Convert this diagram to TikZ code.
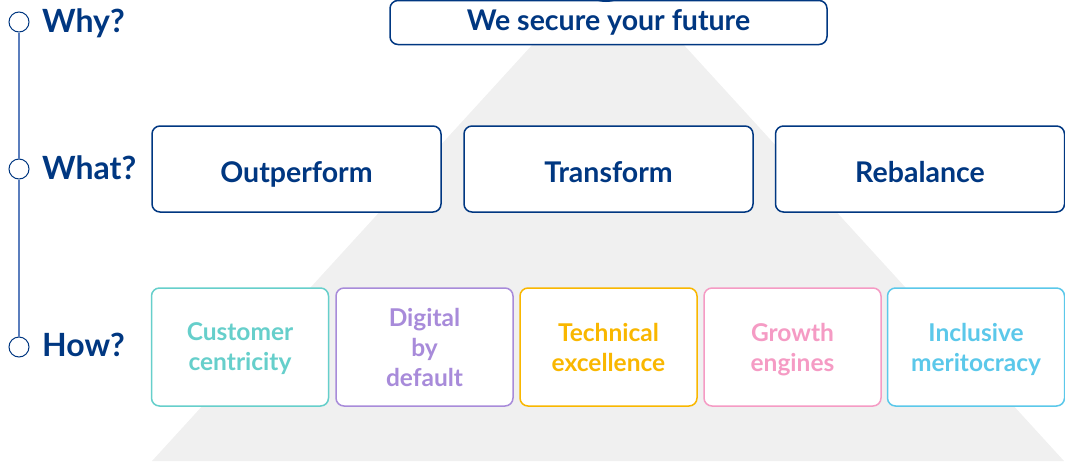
\documentclass[tikz,border=0pt]{standalone}
\usepackage{fontspec}
\setmainfont{Lato}
\definecolor{navy}{HTML}{003781}
\definecolor{stem}{HTML}{5B7EBD}
\definecolor{pyr}{HTML}{F0F0F0}
\definecolor{teal}{HTML}{66CFCB}
\definecolor{lilac}{HTML}{A88BDA}
\definecolor{amber}{HTML}{F9B700}
\definecolor{rose}{HTML}{F59BC4}
\definecolor{sky}{HTML}{5BC8EA}
\begin{document}
\begin{tikzpicture}[x=1pt,y=-1pt,
    box/.style={draw=navy,line width=1.5pt,rounded corners=8pt,fill=white,inner sep=0pt,text=navy,font=\bfseries\fontsize{28.5}{32}\selectfont},
    what/.style={box,minimum width=289pt,minimum height=86pt,text height=26pt,text depth=0pt},
    how/.style={draw=#1,text=#1,line width=1.5pt,rounded corners=8pt,fill=white,minimum width=177pt,minimum height=118pt,inner sep=0pt,align=center,text depth=0pt,font=\bfseries\fontsize{24.5}{30}\selectfont},
    dot/.style={circle,draw=navy,fill=white,line width=1pt,minimum size=20pt,inner sep=0pt},
    lbl/.style={anchor=base west,inner sep=0pt,text=navy,font=\bfseries\fontsize{32}{36}\selectfont}]
    \useasboundingbox (0,0) rectangle (1065,461);
    \clip (0,0) rectangle (1065,461);
    \fill[pyr] (533,44) -- (683,44) -- (1064,461) -- (152,461) -- cycle;
    \node[box,minimum width=437pt,minimum height=44pt] (why) at (608.5,22.5) {We secure your future};
    \fill[navy] (606,-28) circle (30);
    \node[what] (out) at (296.5,169) {Outperform};
    \node[what] (trans) at (608.5,169) {Transform};
    \node[what] (rebal) at (920,169) {Rebalance};
    \node[how=teal] (cust) at (240,347) {Customer\\centricity};
    \node[how=lilac] (digi) at (424.5,347) {Digital\\by\\default};
    \node[how=amber] (tech) at (608.5,347) {Technical\\excellence};
    \node[how=rose] (grow) at (792.5,347) {Growth\\engines};
    \node[how=sky] (incl) at (976,347) {Inclusive\\meritocracy};
    \node[dot] (d1) at (19,22) {};
    \node[dot] (d2) at (19,169) {};
    \node[dot] (d3) at (19,347) {};
    \draw[stem,line width=1.5pt] (d1) -- (d2);
    \draw[stem,line width=1.5pt] (d2) -- (d3);
    \node[lbl] (l1) at (42,32) {Why?};
    \node[lbl] (l2) at (42,179) {What?};
    \node[lbl] (l3) at (42,356) {How?};
\end{tikzpicture}
\end{document}
